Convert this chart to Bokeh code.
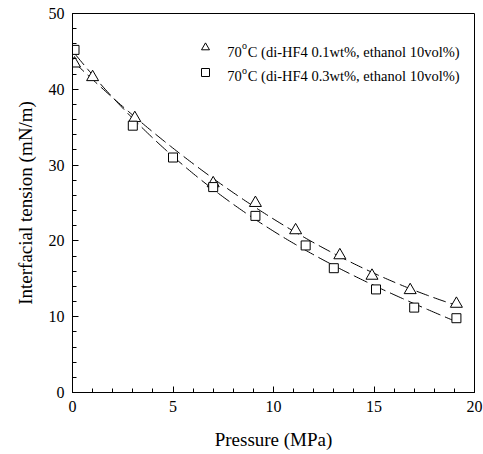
import numpy as np
from bokeh.plotting import figure
from bokeh.models import Range1d, FixedTicker, Legend, LegendItem, Label, ColumnDataSource
from bokeh.embed import file_html
from bokeh.resources import INLINE

# ---- data ----
p01_x = [0.1, 1.0, 3.1, 7.0, 9.1, 11.1, 13.3, 14.9, 16.8, 19.1]
p01_y = [43.4, 41.6, 36.2, 27.6, 25.0, 21.4, 18.1, 15.4, 13.5, 11.7]
p03_x = [0.1, 3.0, 5.0, 7.0, 9.1, 11.6, 13.0, 15.1, 17.0, 19.1]
p03_y = [45.2, 35.2, 31.0, 27.1, 23.3, 19.4, 16.4, 13.6, 11.2, 9.8]

label_01 = "C (di-HF4 0.1wt%, ethanol 10vol%)"
label_03 = "C (di-HF4 0.3wt%, ethanol 10vol%)"
temp_text = "70"

x_ticks = [0, 5, 10, 15, 20]
y_ticks = [0, 10, 20, 30, 40, 50]

FONT = "Liberation Serif"
AXFONT = "'Liberation Serif', 'Times New Roman', serif"

p = figure(frame_width=402, frame_height=379, output_backend="svg", toolbar_location=None,
           x_range=Range1d(0, 20), y_range=Range1d(0, 50),
           min_border_left=72, min_border_right=9, min_border_top=13, min_border_bottom=62)
p.width = 483
p.height = 454

p.xgrid.visible = False
p.ygrid.visible = False
p.outline_line_color = "black"
p.outline_line_width = 1
p.background_fill_color = "white"
p.border_fill_color = "white"

p.xaxis.ticker = FixedTicker(ticks=x_ticks, minor_ticks=list(range(0, 21)))
p.yaxis.ticker = FixedTicker(ticks=y_ticks, minor_ticks=list(range(0, 51, 2)))
for ax in (p.xaxis[0], p.yaxis[0]):
    ax.major_tick_in = 6
    ax.major_tick_out = 0
    ax.minor_tick_in = 4
    ax.minor_tick_out = 0
    ax.axis_line_color = "black"
    ax.axis_line_width = 1
    ax.major_tick_line_color = "black"
    ax.minor_tick_line_color = "black"
    ax.major_label_text_font = AXFONT
    ax.major_label_text_font_size = "16px"
    ax.major_label_text_color = "black"
    ax.axis_label_text_font = AXFONT
    ax.axis_label_text_font_size = "19px"
    ax.axis_label_text_font_style = "normal"
    ax.axis_label_text_color = "black"

p.xaxis.axis_label = "Pressure (MPa)"
p.yaxis.axis_label = "Interfacial tension (mN/m)"
p.xaxis.major_label_standoff = 8
p.yaxis.major_label_standoff = 8
p.xaxis.axis_label_standoff = 14
p.yaxis.axis_label_standoff = 10

# fitted dashed curves (cubic least-squares through each series)
for xs, ys, dash in ((p01_x, p01_y, "13 5"), (p03_x, p03_y, "15 5")):
    c = np.polyfit(xs, ys, 3)
    xx = np.linspace(min(xs), max(xs), 200)
    p.line(xx, np.polyval(c, xx), line_color="black", line_width=1, line_dash=dash)

src01 = ColumnDataSource(dict(x=p01_x, y=p01_y))
src03 = ColumnDataSource(dict(x=p03_x, y=p03_y))
r01 = p.scatter("x", "y", source=src01, marker="triangle", size=12,
                fill_color="white", line_color="black", line_width=1)
r03 = p.scatter("x", "y", source=src03, marker="square", size=9,
                fill_color="white", line_color="black", line_width=1)

legend = Legend(items=[LegendItem(label=" ", renderers=[r01]),
                       LegendItem(label=" ", renderers=[r03])],
                location=(123, 310), padding=0, spacing=5,
                glyph_width=20, glyph_height=20, label_height=20, label_width=1,
                label_text_font_size="1px", border_line_color=None,
                background_fill_alpha=0)
p.add_layout(legend)

# legend texts with superscript "o"
for ytxt, lab in ((44.95, label_01), (41.75, label_03)):
    p.add_layout(Label(x=7.7, y=ytxt, text=temp_text, text_font=FONT, text_font_size="14.5px",
                       text_baseline="alphabetic", text_color="black"))
    p.add_layout(Label(x=7.7, y=ytxt, x_offset=14.8, y_offset=6, text="o", text_font=FONT,
                       text_font_size="10px", text_baseline="alphabetic", text_color="black"))
    p.add_layout(Label(x=7.7, y=ytxt, x_offset=20.5, text=lab, text_font=FONT,
                       text_font_size="14.5px", text_baseline="alphabetic", text_color="black"))

open("out.html", "w").write(file_html(p, INLINE))
